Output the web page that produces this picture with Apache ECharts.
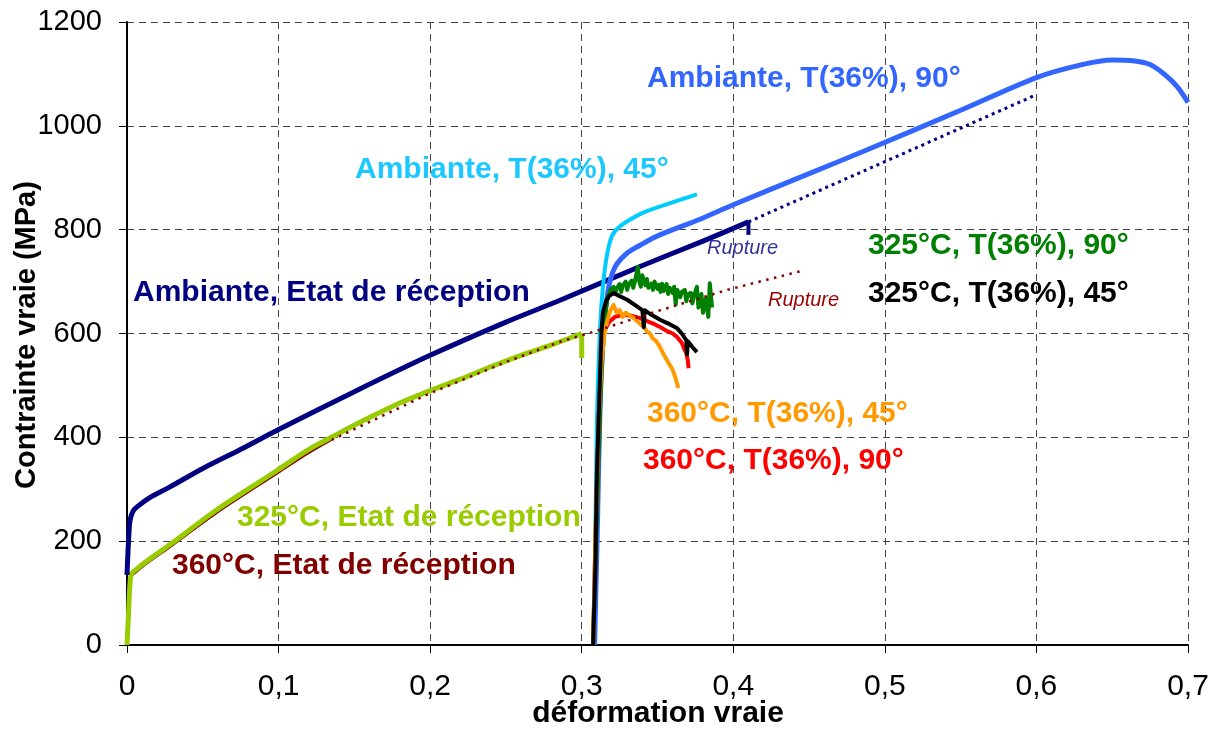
<!DOCTYPE html>
<html><head><meta charset="utf-8">
<script src="https://cdn.jsdelivr.net/npm/echarts@6/dist/echarts.min.js"></script>
<style>html,body{margin:0;padding:0;background:#fff}#c{width:1220px;height:731px}</style>
</head><body><div id="c"></div>
<script>
// ---- tick labels ----
const xTicks = [0, 0.1, 0.2, 0.3, 0.4, 0.5, 0.6, 0.7];
const yTicks = [0, 200, 400, 600, 800, 1000, 1200];

// ---- series data [strain, stress MPa] ----
const ambEtat = [[0,135],[0.001,200],[0.002,240],[0.004,258],[0.0066,266],[0.015,284],[0.028,304],[0.05,340],[0.0745,376],[0.1,415],[0.15,488],[0.2,558],[0.25,622],[0.2857,664],[0.3385,729],[0.38,778],[0.41,815]];
const ambEtatEnd = [[0.41,815],[0.41,790]];
const ambEtatExt = [[0.41,815],[0.6,1060]];
const c325Etat = [[0,0],[0.001,60],[0.002,120],[0.003,137],[0.006,145],[0.01,155],[0.03,197],[0.06,262],[0.1,338],[0.119,375],[0.14,408],[0.16,438],[0.18,466],[0.2,490],[0.22,512],[0.24,536],[0.26,558],[0.28,578],[0.3,600]];
const c325EtatEnd = [[0.3,600],[0.3,553]];
const c360Etat = [[0,0],[0.001,55],[0.002,115],[0.003,132],[0.006,140],[0.01,150],[0.03,192],[0.06,256],[0.1,332],[0.119,368],[0.135,395]];
const c360EtatExt = [[0.135,395],[0.2,485],[0.25,545],[0.2857,584],[0.3075,603],[0.352,645],[0.396,684],[0.447,722]];
const amb90 = [[0.3085,0],[0.3105,250],[0.312,450],[0.3135,560],[0.315,630],[0.317,675],[0.319,705],[0.323,733],[0.33,755],[0.3385,770],[0.35,788],[0.378,820],[0.4,848],[0.45,908],[0.4876,953],[0.55,1030],[0.6,1093],[0.63,1118],[0.65,1127],[0.665,1125],[0.675,1118],[0.685,1098],[0.693,1075],[0.7,1045]];
const amb45 = [[0.3075,0],[0.309,200],[0.31,430],[0.312,605],[0.314,690],[0.3166,750],[0.32,788],[0.325,806],[0.3385,830],[0.35,843],[0.376,868]];
const t325_90 = [[0.3075,0],[0.309,150],[0.311,350],[0.313,520],[0.315,620],[0.317,668],[0.319,684],[0.321,690],[0.322,676],[0.323,686],[0.325,695],[0.326,680],[0.327,692],[0.329,700],[0.330,684],[0.331,694],[0.333,702],[0.334,688],[0.335,699],[0.337,728],[0.338,700],[0.339,690],[0.34,712],[0.342,693],[0.343,705],[0.344,688],[0.346,696],[0.347,684],[0.348,700],[0.35,686],[0.351,694],[0.352,680],[0.353,696],[0.354,682],[0.356,695],[0.357,676],[0.358,688],[0.36,678],[0.361,690],[0.362,656],[0.363,684],[0.365,670],[0.366,680],[0.368,684],[0.369,662],[0.37,676],[0.372,678],[0.373,658],[0.374,672],[0.376,690],[0.377,650],[0.379,676],[0.38,640],[0.382,668],[0.3835,632],[0.3845,697],[0.386,650]];
const t325_45 = [[0.3075,0],[0.309,150],[0.31,330],[0.312,510],[0.313,601],[0.314,640],[0.316,662],[0.318,672],[0.321,678],[0.325,672],[0.33,665],[0.335,655],[0.34,645],[0.341,612],[0.3415,645],[0.346,636],[0.352,626],[0.355,622],[0.358,618],[0.363,610],[0.366,600],[0.369,587],[0.3695,560],[0.37,585],[0.373,574],[0.376,564]];
const t360_90 = [[0.3075,0],[0.309,200],[0.311,420],[0.313,570],[0.315,605],[0.318,622],[0.322,632],[0.327,636],[0.333,634],[0.338,630],[0.343,624],[0.348,618],[0.352,612],[0.356,605],[0.36,600],[0.363,593],[0.366,582],[0.368,568],[0.369,562],[0.37,548],[0.3705,533]];
const t360_45 = [[0.3075,0],[0.309,200],[0.311,420],[0.313,540],[0.315,600],[0.317,626],[0.319,645],[0.321,655],[0.323,640],[0.325,645],[0.327,632],[0.329,640],[0.332,634],[0.335,628],[0.338,620],[0.341,612],[0.343,604],[0.345,600],[0.347,590],[0.349,586],[0.352,572],[0.354,560],[0.356,550],[0.358,540],[0.36,530],[0.3617,516],[0.3625,508],[0.3637,495]];

// ---- labels ----
const labelTexts = {
  amb90: 'Ambiante, T(36%), 90°',
  amb45: 'Ambiante, T(36%), 45°',
  ambEtat: 'Ambiante, Etat de réception',
  t325_90: '325°C, T(36%), 90°',
  t325_45: '325°C, T(36%), 45°',
  c325Etat: '325°C, Etat de réception',
  c360Etat: '360°C, Etat de réception',
  t360_45: '360°C, T(36%), 45°',
  t360_90: '360°C, T(36%), 90°',
  rupture: 'Rupture'
};

const FONT = '"Liberation Sans", Arial, sans-serif';
const C = {navy:'#000080', blue:'#3366FF', cyan:'#00CCFF', green:'#008000', black:'#000000', red:'#FF0000', orange:'#FF9900', yg:'#99CC00', dred:'#800000'};

function line(data, color, width, extra) {
  return Object.assign({
    type: 'line', data: data, showSymbol: false, symbol: 'none', animation: false,
    lineStyle: {color: color, width: width, cap: 'butt', join: 'round'},
    silent: true
  }, extra || {});
}
const SM = {smooth: 0.3};

const series = [
  line(c360Etat, C.dred, 2, SM),
  line(c325Etat, C.yg, 5, SM),
  line(c325EtatEnd, C.yg, 5),
  line(ambEtat, C.navy, 5, SM),
  line(ambEtatEnd, C.navy, 4),
  line(ambEtatExt, C.navy, 3, {lineStyle:{color:C.navy, width:3, type:[3,4]}}),
  line(amb90, C.blue, 5, SM),
  line(amb45, C.cyan, 4, SM),
  line(t325_90, C.green, 4),
  line(t360_90, C.red, 4),
  line(t360_45, C.orange, 4),
  line(t325_45, C.black, 4),
  line(c360EtatExt, C.dred, 2.5, {lineStyle:{color:C.dred, width:2.5, type:[2.5,5.5]}})
];

function txt(x, y, s, color, size, italic) {
  return {type:'text', x:x, y:y, silent:true, z:100,
    style:{text:s, fill:color, font:(italic?'italic ':'bold ')+size+'px '+FONT, align:'left', verticalAlign:'middle'}};
}

const chart = echarts.init(document.getElementById('c'), null, {renderer:'canvas'});
chart.setOption({
  backgroundColor: '#ffffff',
  animation: false,
  grid: {left:127, right:32, top:22, bottom:86, containLabel:false},
  xAxis: {
    type:'value', min:xTicks[0], max:xTicks[xTicks.length-1], interval:0.1,
    axisLine:{show:true, onZero:false, lineStyle:{color:'#000', width:2}},
    axisTick:{show:true, length:8, lineStyle:{color:'#000', width:1}},
    axisLabel:{color:'#000', fontSize:30, fontFamily:FONT, margin:27,
      formatter: v => String(+v.toFixed(1)).replace('.', ',')},
    splitLine:{show:true, lineStyle:{color:'#444', width:1, type:[7,5]}}
  },
  yAxis: {
    type:'value', min:yTicks[0], max:yTicks[yTicks.length-1], interval:200,
    axisLine:{show:true, onZero:false, lineStyle:{color:'#000', width:2}},
    axisTick:{show:true, length:8, lineStyle:{color:'#000', width:1}},
    axisLabel:{color:'#000', fontSize:29, fontFamily:FONT, margin:25,
      formatter: v => String(Math.round(v))},
    splitLine:{show:true, lineStyle:{color:'#444', width:1, type:[7,5]}}
  },
  series: series,
  graphic: [
    txt(647, 79, labelTexts.amb90, C.blue, 30),
    txt(355, 170, labelTexts.amb45, '#1CC8FF', 30),
    txt(133, 293, labelTexts.ambEtat, C.navy, 30),
    txt(868, 246, labelTexts.t325_90, C.green, 30),
    txt(868, 294, labelTexts.t325_45, C.black, 30),
    txt(237, 518, labelTexts.c325Etat, C.yg, 30),
    txt(172, 566, labelTexts.c360Etat, C.dred, 30),
    txt(647, 414, labelTexts.t360_45, C.orange, 30),
    txt(643, 461, labelTexts.t360_90, C.red, 30),
    txt(707, 248, labelTexts.rupture, '#333399', 20, true),
    txt(768, 300, labelTexts.rupture, '#990000', 20, true),
    {type:'text', x:658, y:714, silent:true,
      style:{text:'déformation vraie', fill:'#000', font:'bold 30px '+FONT, align:'center', verticalAlign:'middle'}},
    {type:'text', x:27, y:335, rotation:Math.PI/2, silent:true,
      style:{text:'Contrainte vraie (MPa)', fill:'#000', font:'bold 29px '+FONT, align:'center', verticalAlign:'middle'}}
  ]
});
</script>
</body></html>
